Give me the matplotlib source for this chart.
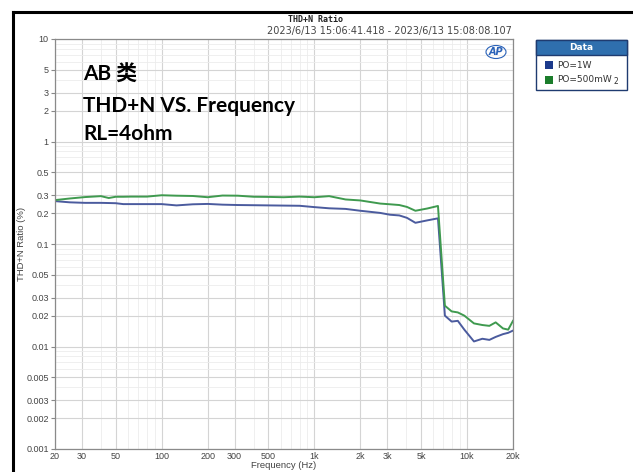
import matplotlib
matplotlib.use("Agg")
import matplotlib.pyplot as plt
from matplotlib.patches import Rectangle, Ellipse
from matplotlib.lines import Line2D
from matplotlib.ticker import FixedLocator, NullFormatter, LogLocator

freq = [20, 25, 31.5, 40, 45, 50, 56, 63, 80, 100, 125, 160, 200, 250, 315,
        400, 500, 630, 800, 1000, 1250, 1600, 2000, 2700, 3130, 3600, 4040,
        4590, 5490, 6450, 7160, 7930, 8700, 9600, 11100, 12600, 14000, 15400,
        17200, 18600, 20000]
thd_1w = [0.262, 0.255, 0.252, 0.252, 0.251, 0.250, 0.245, 0.245, 0.245, 0.245,
          0.238, 0.244, 0.246, 0.242, 0.240, 0.239, 0.238, 0.237, 0.236, 0.229,
          0.223, 0.220, 0.211, 0.201, 0.193, 0.190, 0.180, 0.161, 0.170, 0.178,
          0.0200, 0.0175, 0.0178, 0.0146, 0.0112, 0.0119, 0.0116, 0.0124,
          0.0132, 0.0136, 0.0143]
thd_500mw = [0.268, 0.278, 0.287, 0.293, 0.281, 0.289, 0.289, 0.290, 0.290, 0.299,
             0.296, 0.294, 0.286, 0.297, 0.296, 0.289, 0.288, 0.286, 0.290, 0.286,
             0.293, 0.272, 0.266, 0.248, 0.244, 0.240, 0.230, 0.211, 0.222, 0.235,
             0.0250, 0.0220, 0.0215, 0.0200, 0.0168, 0.0162, 0.0159, 0.0172,
             0.0150, 0.0146, 0.0178]

x_ticks = [20, 30, 50, 100, 200, 300, 500, 1000, 2000, 3000, 5000, 10000, 20000]
x_labels = ["20", "30", "50", "100", "200", "300", "500", "1k", "2k", "3k", "5k", "10k", "20k"]
y_ticks = [10, 5, 3, 2, 1, 0.5, 0.3, 0.2, 0.1, 0.05, 0.03, 0.02, 0.01,
           0.005, 0.003, 0.002, 0.001]
y_labels = ["10", "5", "3", "2", "1", "0.5", "0.3", "0.2", "0.1", "0.05", "0.03",
            "0.02", "0.01", "0.005", "0.003", "0.002", "0.001"]
series_names = ["PO=1W", "PO=500mW"]

W, H = 633, 472
fig = plt.figure(figsize=(W / 100, H / 100), dpi=100)
ax = fig.add_axes([55 / W, 1 - 449 / H, (513 - 55) / W, (449 - 39) / H])

ax.plot(freq, thd_1w, color="#4b5b9e", lw=1.4)
ax.plot(freq, thd_500mw, color="#3f9a4f", lw=1.4)

ax.set_xscale("log")
ax.set_yscale("log")
ax.set_xlim(20, 20000)
ax.set_ylim(0.001, 10)

tick_font = dict(fontsize=6.5, color="#444444", family="Liberation Sans")
ax.xaxis.set_major_locator(FixedLocator(x_ticks))
ax.set_xticklabels(x_labels, **tick_font)
ax.xaxis.set_minor_locator(LogLocator(base=10, subs=range(1, 10), numticks=20))
ax.xaxis.set_minor_formatter(NullFormatter())
ax.yaxis.set_major_locator(FixedLocator(y_ticks))
ax.set_yticklabels(y_labels, **tick_font)
ax.yaxis.set_minor_locator(LogLocator(base=10, subs=range(1, 10), numticks=20))
ax.yaxis.set_minor_formatter(NullFormatter())

ax.tick_params(axis="x", which="both", length=0, pad=2)
ax.tick_params(axis="y", which="major", length=3, color="#888888", pad=1.5)
ax.tick_params(axis="y", which="minor", length=0)

ax.grid(True, which="major", color="#d4d4d4", lw=0.8)
ax.grid(True, which="minor", color="#ececec", lw=0.6)
ax.set_axisbelow(True)
for s in ax.spines.values():
    s.set_color("#8a8a8a")
    s.set_linewidth(0.9)

ax.set_xlabel("Frequency (Hz)", fontsize=6.8, color="#444444", labelpad=0,
              family="Liberation Sans")
ax.set_ylabel("THD+N Ratio (%)", fontsize=6.8, color="#444444", family="Liberation Sans")
ax.yaxis.set_label_coords(-0.064, 0.5)

# Titel und Zeitstempel
fig.text(316 / W, 1 - 19 / H, "THD+N Ratio", ha="center", va="center",
         fontsize=6, family="DejaVu Sans Mono", weight="bold", color="#222222")
fig.text(512 / W, 1 - 31 / H, "2023/6/13 15:06:41.418 - 2023/6/13 15:08:08.107",
         ha="right", va="center", fontsize=7, color="#444444")

# AP Logo
ax.add_patch(Ellipse((496 / W, 1 - 52 / H), 20 / W, 13 / H, transform=fig.transFigure,
                     fill=False, ec="#2a62b8", lw=0.8))
fig.text(496 / W, 1 - 52 / H, "AP", ha="center", va="center", fontsize=7,
         style="italic", weight="bold", color="#2a62b8")

# Beschriftung im Diagramm
big = dict(fontsize=15, weight="bold", color="black",
           family=["Lato", "Noto Sans CJK SC", "DejaVu Sans"], va="center")
fig.text(83 / W, 1 - 75 / H, "AB 类", **big)
fig.text(83 / W, 1 - 106 / H, "THD+N VS. Frequency", **big)
fig.text(83 / W, 1 - 134 / H, "RL=4ohm", **big)

# Legende
lx0, lx1, ly0, ly1 = 536, 627, 40, 90
fig.add_artist(Rectangle((lx0 / W, 1 - ly1 / H), (lx1 - lx0) / W, (ly1 - ly0) / H,
                         transform=fig.transFigure, fc="white", ec="#1f3b70", lw=1))
fig.add_artist(Rectangle((lx0 / W, 1 - 55 / H), (lx1 - lx0) / W, 15 / H,
                         transform=fig.transFigure, fc="#2f6fae", ec="#1f3b70", lw=1))
fig.text((lx0 + lx1) / 2 / W, 1 - 47.5 / H, "Data", ha="center", va="center",
         fontsize=6.5, weight="bold", color="white")
legend_colors = ["#1c3a8c", "#1b7d2b"]
for i, (name, c) in enumerate(zip(series_names, legend_colors)):
    yc = 65 + i * 15
    fig.add_artist(Rectangle((545 / W, 1 - (yc + 4) / H), 8 / W, 8 / H,
                             transform=fig.transFigure, fc=c, ec="none"))
    fig.text(557 / W, 1 - yc / H, name, ha="left", va="center", fontsize=6.5,
             color="#333333")
fig.text(613 / W, 1 - 82 / H, "2", ha="left", va="center", fontsize=5.5, color="#333333")

# Aeusserer Rahmen
fig.add_artist(Line2D([13 / W, 13 / W], [0, 1 - 12 / H], transform=fig.transFigure,
                      color="black", lw=2.2))
fig.add_artist(Line2D([13 / W, 1], [1 - 12 / H, 1 - 12 / H], transform=fig.transFigure,
                      color="black", lw=2.2))

fig.savefig("out.png", dpi=100, facecolor="white")
